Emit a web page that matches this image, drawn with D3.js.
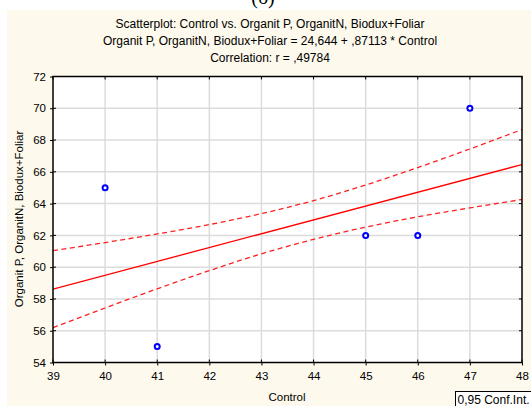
<!DOCTYPE html>
<html><head><meta charset="utf-8">
<script src="https://cdn.jsdelivr.net/npm/d3@7/dist/d3.min.js"></script>
<style>body{margin:0;background:#fff}svg{display:block}text{font-family:"Liberation Sans",Arial,sans-serif;fill:#000}</style>
</head><body>
<svg id="c" width="531" height="406"></svg>
<script>
// Data
const controlX = [40, 41, 45, 46, 47];
const organitY = [65, 55, 62, 62, 70];
const xTicks = [39, 40, 41, 42, 43, 44, 45, 46, 47, 48];
const yTicks = [54, 56, 58, 60, 62, 64, 66, 68, 70, 72];
const fitX = [39, 48];
const fitY = [58.62, 66.46];
const bandX = [39, 40, 41, 42, 43, 44, 45, 46, 47, 48];
const bandUpper = [61.04, 61.55, 62.09, 62.68, 63.37, 64.19, 65.17, 66.27, 67.44, 68.66];
const bandLower = [56.19, 57.43, 58.64, 59.78, 60.84, 61.75, 62.52, 63.17, 63.73, 64.26];
const titles = ["Scatterplot: Control vs. Organit P, OrganitN, Biodux+Foliar",
  "Organit P, OrganitN, Biodux+Foliar = 24,644 + ,87113 * Control",
  "Correlation: r = ,49784"];

const svg = d3.select("#c");
svg.append("rect").attr("x", 7).attr("y", 10).attr("width", 524).attr("height", 396).attr("fill", "#fdf9ec");
svg.append("text").attr("x", 263).attr("y", 4).attr("text-anchor", "middle")
  .style("font-family", "'Liberation Serif','Times New Roman',serif").style("font-size", "20px").text("(б)");

const L = 53, R = 522, T = 76.5, B = 362.5;
const x = d3.scaleLinear().domain([39, 48]).range([L, R]);
const y = d3.scaleLinear().domain([54, 72]).range([B, T]);

svg.append("rect").attr("x", L).attr("y", T).attr("width", R - L).attr("height", B - T).attr("fill", "#fff");

// grid
const g = svg.append("g");
g.selectAll("line.vx").data(xTicks.slice(1, -1)).join("line")
  .attr("x1", d => x(d)).attr("x2", d => x(d)).attr("y1", T).attr("y2", B)
  .attr("stroke", "#dcdcdc").attr("stroke-width", 1.5);
g.selectAll("line.hy").data(yTicks.slice(1, -1)).join("line")
  .attr("y1", d => y(d)).attr("y2", d => y(d)).attr("x1", L).attr("x2", R)
  .attr("stroke", "#dcdcdc").attr("stroke-width", 1.5);

// clip
svg.append("clipPath").attr("id", "clp").append("rect").attr("x", L).attr("y", T).attr("width", R - L).attr("height", B - T);
const p = svg.append("g").attr("clip-path", "url(#clp)");

const lineGen = d3.line().x(d => x(d[0])).y(d => y(d[1])).curve(d3.curveMonotoneX);
p.append("path").datum(bandX.map((v, i) => [v, bandUpper[i]])).attr("d", lineGen)
  .attr("fill", "none").attr("stroke", "#ff2020").attr("stroke-width", 1.3).attr("stroke-dasharray", "5,3.5");
p.append("path").datum(bandX.map((v, i) => [v, bandLower[i]])).attr("d", lineGen)
  .attr("fill", "none").attr("stroke", "#ff2020").attr("stroke-width", 1.3).attr("stroke-dasharray", "5,3.5");
p.append("path").datum(fitX.map((v, i) => [v, fitY[i]])).attr("d", d3.line().x(d => x(d[0])).y(d => y(d[1])))
  .attr("fill", "none").attr("stroke", "#ff0000").attr("stroke-width", 1.3);

// points
svg.selectAll("circle.pt").data(controlX.map((v, i) => [v, organitY[i]])).join("circle")
  .attr("cx", d => x(d[0])).attr("cy", d => y(d[1])).attr("r", 2.5)
  .attr("fill", "#fff").attr("stroke", "#0000ff").attr("stroke-width", 2);

// axes
const ax = d3.axisBottom(x).tickValues(xTicks).tickSize(3).tickPadding(6);
const ay = d3.axisLeft(y).tickValues(yTicks).tickSize(3).tickPadding(4);
const gx = svg.append("g").attr("transform", `translate(0,${B})`).call(ax);
const gy = svg.append("g").attr("transform", `translate(${L},0)`).call(ay);
[gx, gy].forEach(a => {
  a.select(".domain").remove();
  a.selectAll("text").style("font-size", "11.5px").style("font-family", "'Liberation Sans',Arial,sans-serif").attr("fill", "#000");
  a.selectAll("line").attr("stroke", "#000");
});
// inner ticks
svg.selectAll("line.ix").data(xTicks).join("line").attr("x1", d => x(d)).attr("x2", d => x(d)).attr("y1", B).attr("y2", B - 3).attr("stroke", "#000");
svg.selectAll("line.iy").data(yTicks).join("line").attr("y1", d => y(d)).attr("y2", d => y(d)).attr("x1", L).attr("x2", L + 3).attr("stroke", "#000");
svg.selectAll("line.ir").data(yTicks).join("line").attr("y1", d => y(d)).attr("y2", d => y(d)).attr("x1", R).attr("x2", R - 3).attr("stroke", "#000");
svg.selectAll("line.it").data(xTicks).join("line").attr("x1", d => x(d)).attr("x2", d => x(d)).attr("y1", T).attr("y2", T + 3).attr("stroke", "#000");

svg.append("rect").attr("x", L).attr("y", T).attr("width", R - L).attr("height", B - T)
  .attr("fill", "none").attr("stroke", "#000").attr("stroke-width", 1.5);

// titles
titles.forEach((t, i) => {
  svg.append("text").attr("x", 270).attr("y", 28 + i * 17).attr("text-anchor", "middle").style("font-size", "12px").text(t);
});
svg.append("text").attr("x", 287).attr("y", 401).attr("text-anchor", "middle").style("font-size", "11.5px").text("Control");
svg.append("text").attr("transform", "translate(23,219) rotate(-90)").attr("text-anchor", "middle").style("font-size", "11.5px")
  .text("Organit P, OrganitN, Biodux+Foliar");

// legend box
svg.append("rect").attr("x", 455.5).attr("y", 391.5).attr("width", 80).attr("height", 20).attr("fill", "#fff").attr("stroke", "#000");
svg.append("text").attr("x", 457.5).attr("y", 403.5).style("font-size", "12px").text("0,95 Conf.Int.");
</script>
</body></html>
